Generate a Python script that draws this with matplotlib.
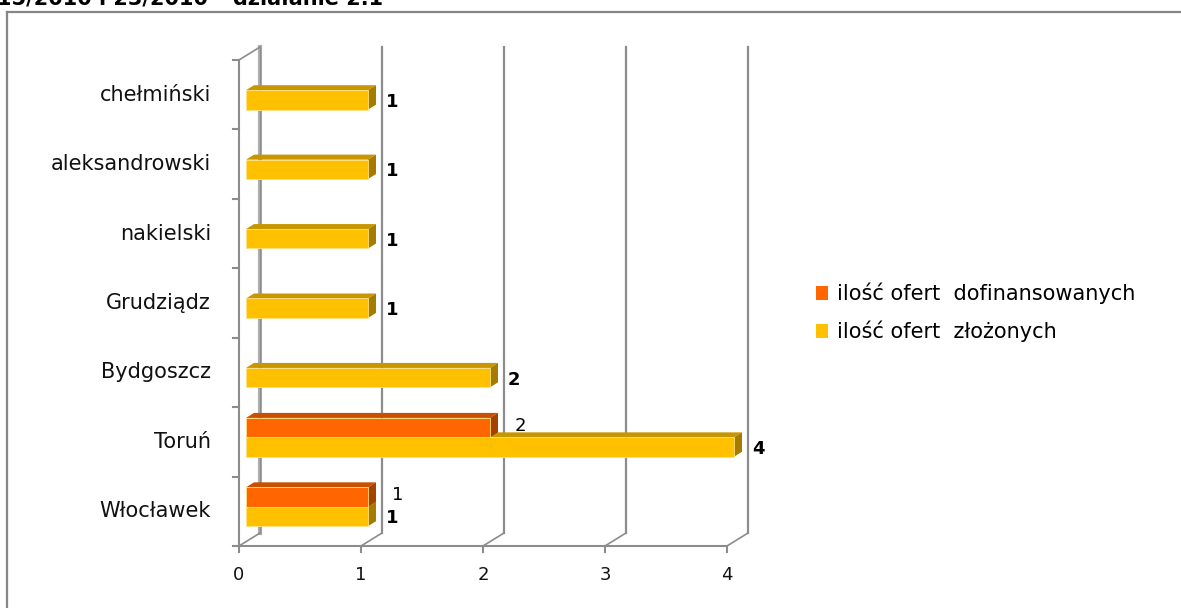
import numpy as np
import matplotlib.pyplot as plt
from matplotlib.patches import Polygon, Patch
from matplotlib.lines import Line2D

categories = ["Włocławek", "Toruń", "Bydgoszcz", "Grudziądz", "nakielski", "aleksandrowski", "chełmiński"]
zlozone = [1, 4, 2, 1, 1, 1, 1]
dofinansowane = [1, 2, 0, 0, 0, 0, 0]
x_ticks = [0, 1, 2, 3, 4]
legend_labels = ["ilość ofert  dofinansowanych", "ilość ofert  złożonych"]
title_text = "15/2010 i 23/2010 – działanie 2.1"

W, H = 1181, 608
fig = plt.figure(figsize=(W / 100, H / 100), dpi=100)

# axes placed in pixels: x 0..4 -> 239..727, y -0.5..6.5 -> 546..60
ax = fig.add_axes([239 / W, (H - 546) / H, 488 / W, 486 / H])
ax.set_xlim(0, 4)
ax.set_ylim(-0.5, 6.5)
ax.axis("off")

px_x = 4 / 488      # data units per pixel
px_y = 7 / 486
DX, DY = 21 * px_x, 13 * px_y      # wall depth
BX, BY = 7 * px_x, 4 * px_y        # bar front offset
BDX, BDY = 8 * px_x, 5 * px_y      # bar depth
grid_c = "#8c8c8c"
n = len(categories)
ymin, ymax = -0.5, n - 0.5

# back walls / grid
ax.plot([DX, DX], [ymin + DY, ymax + DY], color="#b0b0b0", lw=3, clip_on=False, zorder=1)
ax.plot([DX, DX], [ymin + DY, ymax + DY], color="#8c8c8c", lw=1, clip_on=False, zorder=1)
for v in x_ticks[1:]:
    ax.plot([v + DX, v + DX], [ymin + DY, ymax + DY], color=grid_c, lw=1.6, clip_on=False, zorder=1)
for v in x_ticks:
    ax.plot([v, v + DX], [ymin, ymin + DY], color=grid_c, lw=1.2, clip_on=False, zorder=1)
    ax.plot([v, v], [ymin, ymin - 6 * px_y], color=grid_c, lw=1.5, clip_on=False, zorder=1)
# front axes
ax.plot([0, 0], [ymin, ymax], color=grid_c, lw=1.5, clip_on=False, zorder=1)
ax.plot([0, DX], [ymax, ymax + DY], color=grid_c, lw=1.2, clip_on=False, zorder=1)
ax.plot([0, 4], [ymin, ymin], color=grid_c, lw=1.5, clip_on=False, zorder=1)
for k in range(n + 1):
    ax.plot([0, -6 * px_x], [k - 0.5, k - 0.5], color=grid_c, lw=1.5, clip_on=False, zorder=1)


def bar3d(val, y0, y1, front, top, side, z):
    x0, x1 = BX, BX + val
    ax.add_patch(Polygon([(x0, y1), (x1, y1), (x1 + BDX, y1 + BDY), (x0 + BDX, y1 + BDY)],
                         closed=True, facecolor=top, edgecolor="none", zorder=z, clip_on=False))
    ax.add_patch(Polygon([(x1, y0), (x1 + BDX, y0 + BDY), (x1 + BDX, y1 + BDY), (x1, y1)],
                         closed=True, facecolor=side, edgecolor="none", zorder=z, clip_on=False))
    ax.add_patch(Polygon([(x0, y0), (x1, y0), (x1, y1), (x0, y1)], closed=True,
                         facecolor=front, edgecolor="#ffdf80", lw=0.6, zorder=z + 0.1, clip_on=False))


bh = 0.28
for i in range(n):
    v = zlozone[i]
    if v > 0:
        y0, y1 = i - 0.215, i - 0.215 + bh
        bar3d(v, y0, y1, "#ffc000", "#c89600", "#a67c00", 3 + i * 0.01)
        ax.annotate(str(v), (BX + v + BDX, (y0 + y1) / 2), xytext=(16, -2),
                    textcoords="offset pixels", ha="center", va="center",
                    fontsize=13, fontweight="bold", annotation_clip=False, zorder=10)
for i in range(n):
    v = dofinansowane[i]
    if v > 0:
        y0, y1 = i - 0.215 + bh, i - 0.215 + 2 * bh
        bar3d(v, y0, y1, "#ff6600", "#c85000", "#a64200", 5 + i * 0.01)
        ax.annotate(str(v), (BX + v + BDX, (y0 + y1) / 2), xytext=(22, 2),
                    textcoords="offset pixels", ha="center", va="center",
                    fontsize=13, annotation_clip=False, zorder=10)

# tick labels
for i, c in enumerate(categories):
    ax.text(-28 * px_x, i, c, ha="right", va="center", fontsize=15, color="#111111")
for v in x_ticks:
    ax.text(v, ymin - 29 * px_y, str(v), ha="center", va="center", fontsize=13, color="#111111")

# legend
handles = [Patch(facecolor="#ff6600", edgecolor="none"), Patch(facecolor="#ffc000", edgecolor="none")]
fig.legend(handles, legend_labels, loc="upper left", bbox_to_anchor=(797 / W, 1 - 264 / H),
           frameon=False, fontsize=15, handlelength=0.6, handleheight=0.6,
           handletextpad=0.4, labelspacing=0.8)

# outer frame and cut-off title (cut off in the original too)
fig.add_artist(Line2D([7 / W, 7 / W], [0, 1 - 12 / H], color="#868686", lw=1.6))
fig.add_artist(Line2D([7 / W, 1], [1 - 12 / H, 1 - 12 / H], color="#868686", lw=1.6))
fig.text(-3 / W, 1 - 4 / H, title_text, fontsize=15, fontweight="bold", va="baseline")

fig.savefig("out.png", dpi=100)
